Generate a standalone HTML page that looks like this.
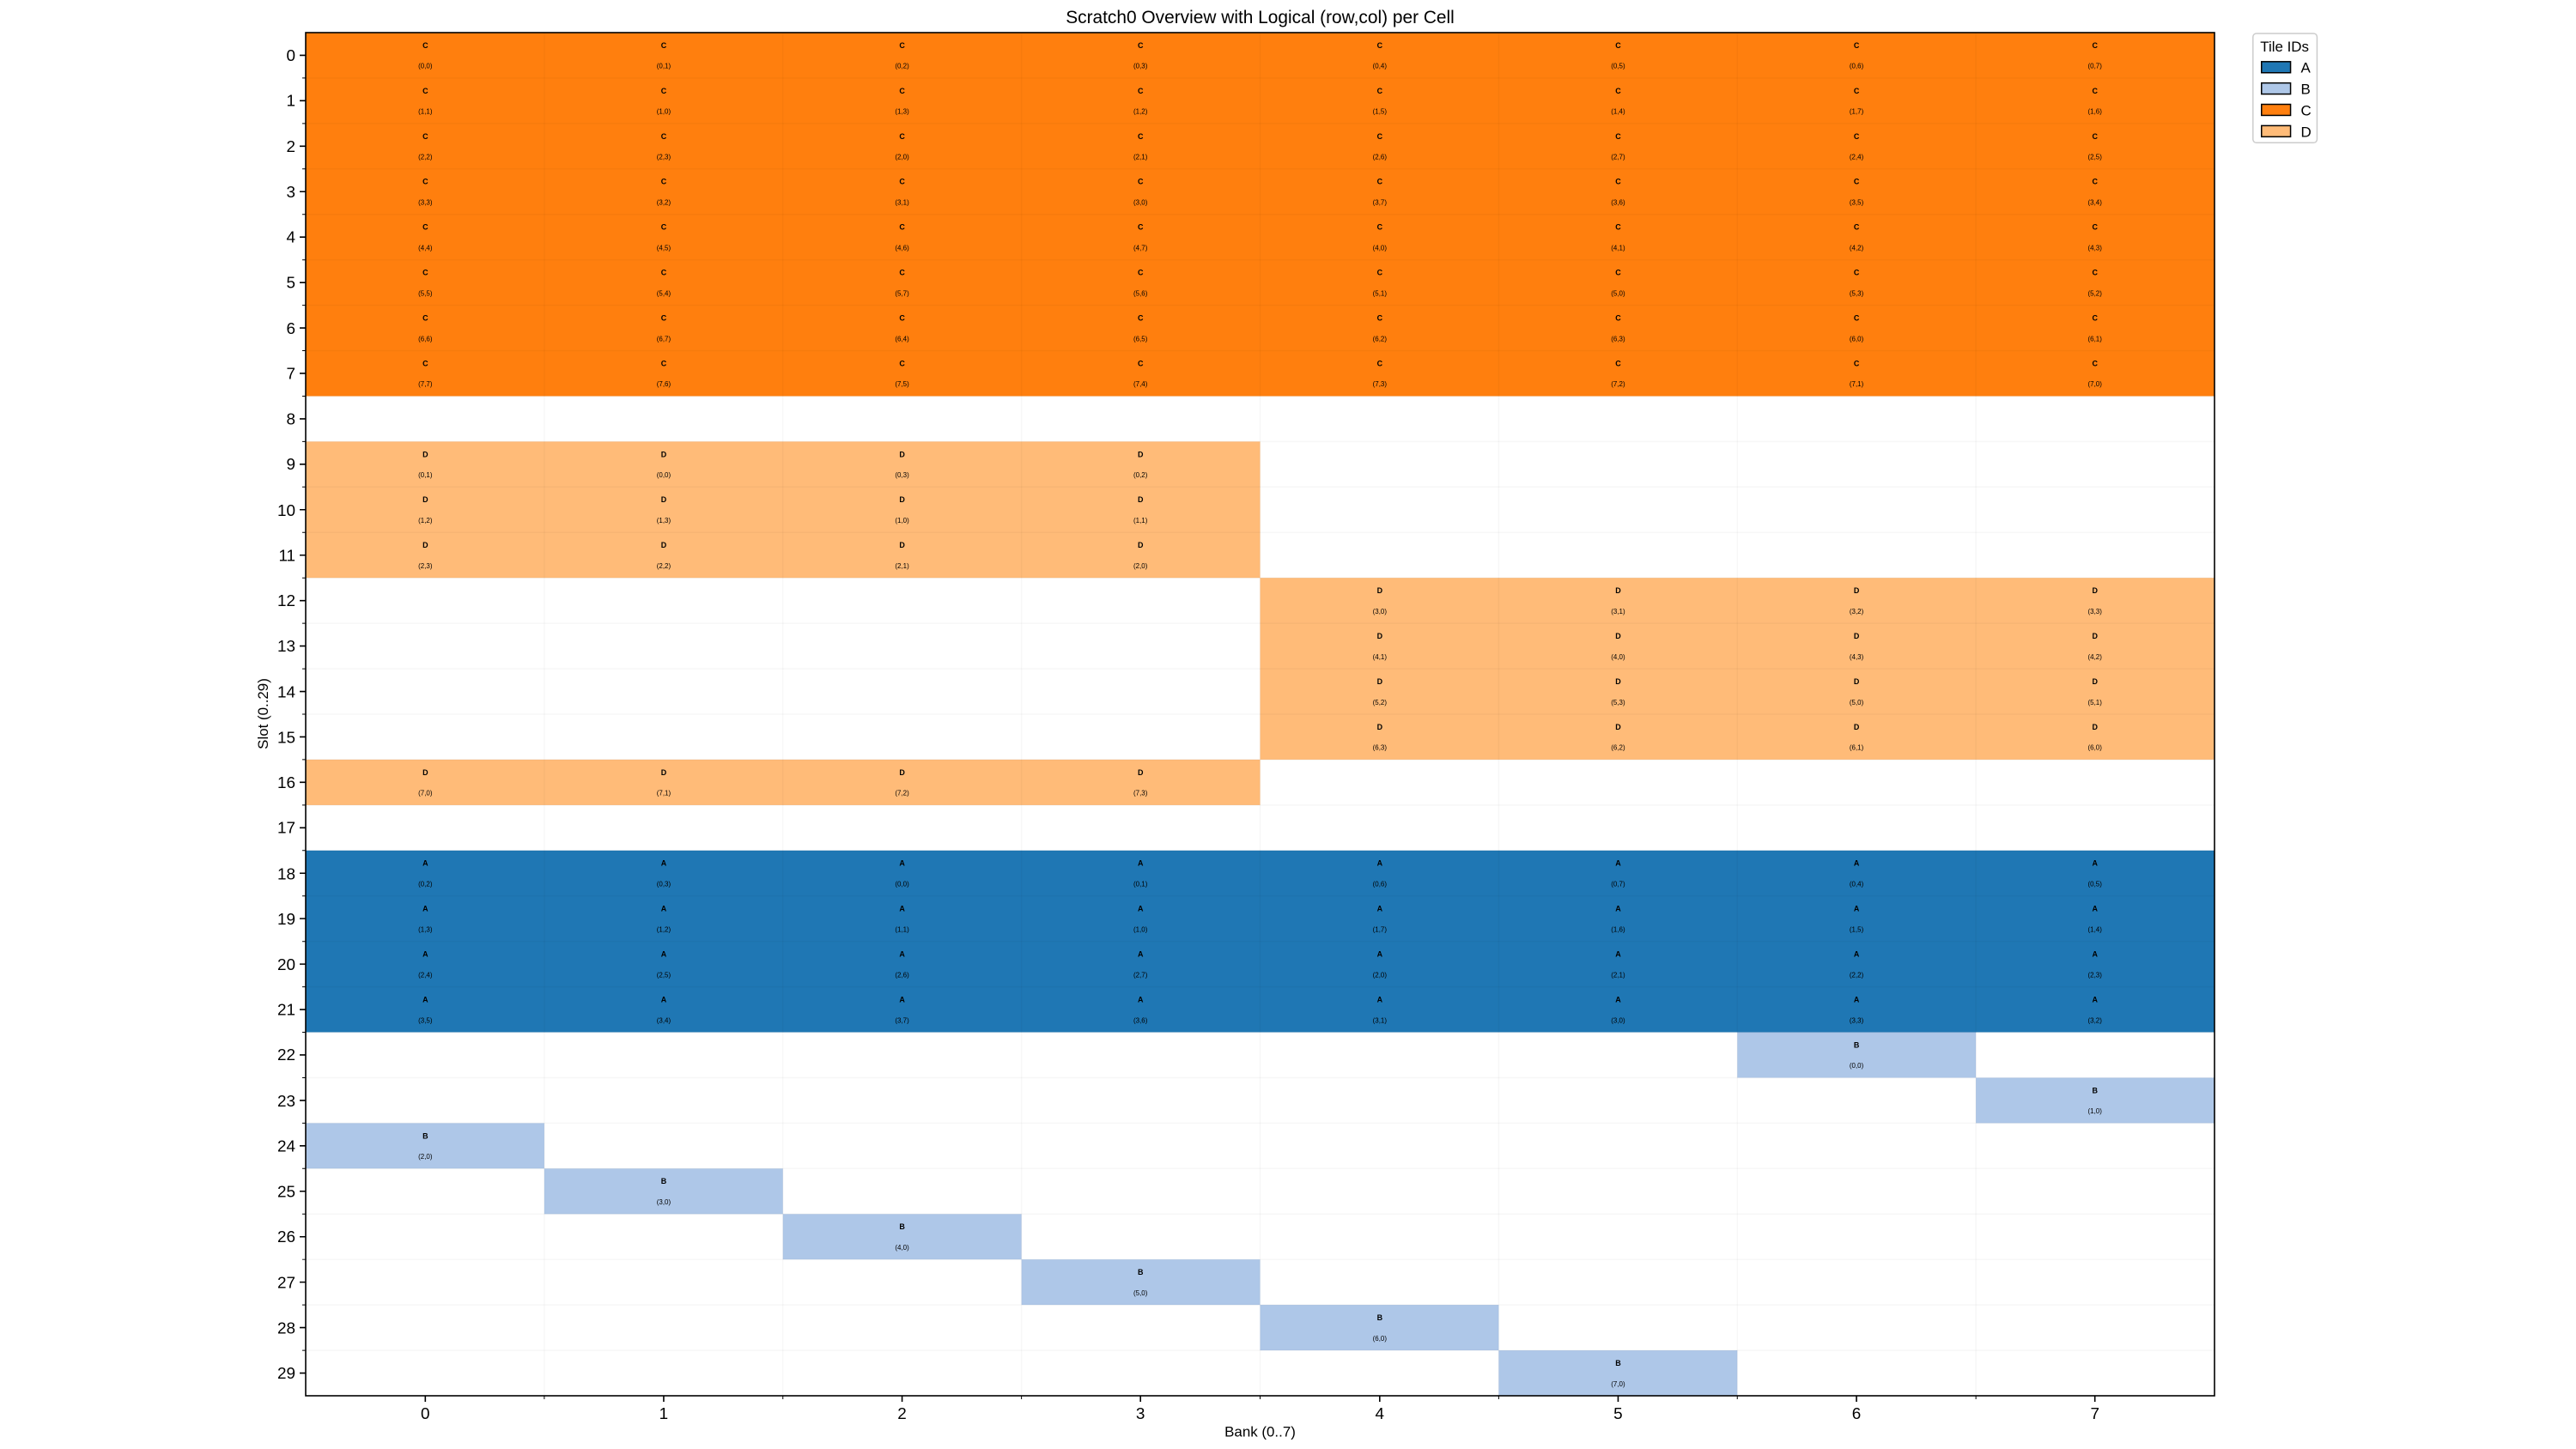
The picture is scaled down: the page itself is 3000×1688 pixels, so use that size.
<!DOCTYPE html>
<html><head><meta charset="utf-8"><style>
html,body{margin:0;padding:0;background:#fff}
svg{display:block}
text{font-family:"Liberation Sans","DejaVu Sans",sans-serif;fill:#000}
.l{font-size:9px;font-weight:bold;text-anchor:middle}
.c{font-size:8px;text-anchor:middle}
.t{font-size:19px;text-anchor:end}
.x{font-size:19px;text-anchor:middle}
</style></head><body>
<svg width="3000" height="1688" viewBox="0 0 3000 1688" xmlns="http://www.w3.org/2000/svg">
<rect width="3000" height="1688" fill="#fff"/>
<g transform="matrix(0.99508,0,0,0.99436,-0.24,0.21)">
<text x="1475" y="27" style="font-size:21px;text-anchor:middle">Scratch0 Overview with Logical (row,col) per Cell</text>
<!-- fills -->
<rect x="358" y="38" width="2234" height="425.9" fill="#ff7f0e"/>
<rect x="358" y="517.1" width="1117" height="159.7" fill="#ffbb78"/>
<rect x="1475" y="676.8" width="1117" height="212.9" fill="#ffbb78"/>
<rect x="358" y="889.7" width="1117" height="53.3" fill="#ffbb78"/>
<rect x="358" y="996.2" width="2234" height="212.9" fill="#1f77b4"/>
<rect x="2033.5" y="1209.1" width="279.25" height="53.3" fill="#aec7e8"/>
<rect x="2312.75" y="1262.4" width="279.25" height="53.2" fill="#aec7e8"/>
<rect x="358" y="1315.6" width="279.25" height="53.2" fill="#aec7e8"/>
<rect x="637.25" y="1368.8" width="279.25" height="53.3" fill="#aec7e8"/>
<rect x="916.5" y="1422.1" width="279.25" height="53.2" fill="#aec7e8"/>
<rect x="1195.75" y="1475.3" width="279.25" height="53.2" fill="#aec7e8"/>
<rect x="1475" y="1528.5" width="279.25" height="53.3" fill="#aec7e8"/>
<rect x="1754.25" y="1581.8" width="279.25" height="53.2" fill="#aec7e8"/>
<!-- faint grid -->
<g stroke="#000" stroke-opacity="0.03" stroke-width="1.5">
<line x1="358" x2="2592" y1="91.2" y2="91.2"/><line x1="358" x2="2592" y1="144.5" y2="144.5"/><line x1="358" x2="2592" y1="197.7" y2="197.7"/><line x1="358" x2="2592" y1="250.9" y2="250.9"/><line x1="358" x2="2592" y1="304.2" y2="304.2"/><line x1="358" x2="2592" y1="357.4" y2="357.4"/><line x1="358" x2="2592" y1="410.6" y2="410.6"/><line x1="358" x2="2592" y1="463.9" y2="463.9"/><line x1="358" x2="2592" y1="517.1" y2="517.1"/><line x1="358" x2="2592" y1="570.3" y2="570.3"/><line x1="358" x2="2592" y1="623.6" y2="623.6"/><line x1="358" x2="2592" y1="676.8" y2="676.8"/><line x1="358" x2="2592" y1="730" y2="730"/><line x1="358" x2="2592" y1="783.3" y2="783.3"/><line x1="358" x2="2592" y1="836.5" y2="836.5"/><line x1="358" x2="2592" y1="889.7" y2="889.7"/><line x1="358" x2="2592" y1="943" y2="943"/><line x1="358" x2="2592" y1="996.2" y2="996.2"/><line x1="358" x2="2592" y1="1049.4" y2="1049.4"/><line x1="358" x2="2592" y1="1102.7" y2="1102.7"/><line x1="358" x2="2592" y1="1155.9" y2="1155.9"/><line x1="358" x2="2592" y1="1209.1" y2="1209.1"/><line x1="358" x2="2592" y1="1262.4" y2="1262.4"/><line x1="358" x2="2592" y1="1315.6" y2="1315.6"/><line x1="358" x2="2592" y1="1368.8" y2="1368.8"/><line x1="358" x2="2592" y1="1422.1" y2="1422.1"/><line x1="358" x2="2592" y1="1475.3" y2="1475.3"/><line x1="358" x2="2592" y1="1528.5" y2="1528.5"/><line x1="358" x2="2592" y1="1581.8" y2="1581.8"/>
<line y1="38" y2="1635" x1="637.25" x2="637.25"/><line y1="38" y2="1635" x1="916.5" x2="916.5"/><line y1="38" y2="1635" x1="1195.75" x2="1195.75"/><line y1="38" y2="1635" x1="1475" x2="1475"/><line y1="38" y2="1635" x1="1754.25" x2="1754.25"/><line y1="38" y2="1635" x1="2033.5" x2="2033.5"/><line y1="38" y2="1635" x1="2312.75" x2="2312.75"/>
</g>
<!-- C rows -->
<g transform="translate(0,38)"><text class="l" x="498" y="18">C</text><text class="l" x="777" y="18">C</text><text class="l" x="1056" y="18">C</text><text class="l" x="1335" y="18">C</text><text class="l" x="1615" y="18">C</text><text class="l" x="1894" y="18">C</text><text class="l" x="2173" y="18">C</text><text class="l" x="2452" y="18">C</text>
<text class="c" x="498" y="42">(0,0)</text><text class="c" x="777" y="42">(0,1)</text><text class="c" x="1056" y="42">(0,2)</text><text class="c" x="1335" y="42">(0,3)</text><text class="c" x="1615" y="42">(0,4)</text><text class="c" x="1894" y="42">(0,5)</text><text class="c" x="2173" y="42">(0,6)</text><text class="c" x="2452" y="42">(0,7)</text></g>
<g transform="translate(0,91.2)"><text class="l" x="498" y="18">C</text><text class="l" x="777" y="18">C</text><text class="l" x="1056" y="18">C</text><text class="l" x="1335" y="18">C</text><text class="l" x="1615" y="18">C</text><text class="l" x="1894" y="18">C</text><text class="l" x="2173" y="18">C</text><text class="l" x="2452" y="18">C</text>
<text class="c" x="498" y="42">(1,1)</text><text class="c" x="777" y="42">(1,0)</text><text class="c" x="1056" y="42">(1,3)</text><text class="c" x="1335" y="42">(1,2)</text><text class="c" x="1615" y="42">(1,5)</text><text class="c" x="1894" y="42">(1,4)</text><text class="c" x="2173" y="42">(1,7)</text><text class="c" x="2452" y="42">(1,6)</text></g>
<g transform="translate(0,144.5)"><text class="l" x="498" y="18">C</text><text class="l" x="777" y="18">C</text><text class="l" x="1056" y="18">C</text><text class="l" x="1335" y="18">C</text><text class="l" x="1615" y="18">C</text><text class="l" x="1894" y="18">C</text><text class="l" x="2173" y="18">C</text><text class="l" x="2452" y="18">C</text>
<text class="c" x="498" y="42">(2,2)</text><text class="c" x="777" y="42">(2,3)</text><text class="c" x="1056" y="42">(2,0)</text><text class="c" x="1335" y="42">(2,1)</text><text class="c" x="1615" y="42">(2,6)</text><text class="c" x="1894" y="42">(2,7)</text><text class="c" x="2173" y="42">(2,4)</text><text class="c" x="2452" y="42">(2,5)</text></g>
<g transform="translate(0,197.7)"><text class="l" x="498" y="18">C</text><text class="l" x="777" y="18">C</text><text class="l" x="1056" y="18">C</text><text class="l" x="1335" y="18">C</text><text class="l" x="1615" y="18">C</text><text class="l" x="1894" y="18">C</text><text class="l" x="2173" y="18">C</text><text class="l" x="2452" y="18">C</text>
<text class="c" x="498" y="42">(3,3)</text><text class="c" x="777" y="42">(3,2)</text><text class="c" x="1056" y="42">(3,1)</text><text class="c" x="1335" y="42">(3,0)</text><text class="c" x="1615" y="42">(3,7)</text><text class="c" x="1894" y="42">(3,6)</text><text class="c" x="2173" y="42">(3,5)</text><text class="c" x="2452" y="42">(3,4)</text></g>
<g transform="translate(0,250.9)"><text class="l" x="498" y="18">C</text><text class="l" x="777" y="18">C</text><text class="l" x="1056" y="18">C</text><text class="l" x="1335" y="18">C</text><text class="l" x="1615" y="18">C</text><text class="l" x="1894" y="18">C</text><text class="l" x="2173" y="18">C</text><text class="l" x="2452" y="18">C</text>
<text class="c" x="498" y="42">(4,4)</text><text class="c" x="777" y="42">(4,5)</text><text class="c" x="1056" y="42">(4,6)</text><text class="c" x="1335" y="42">(4,7)</text><text class="c" x="1615" y="42">(4,0)</text><text class="c" x="1894" y="42">(4,1)</text><text class="c" x="2173" y="42">(4,2)</text><text class="c" x="2452" y="42">(4,3)</text></g>
<g transform="translate(0,304.2)"><text class="l" x="498" y="18">C</text><text class="l" x="777" y="18">C</text><text class="l" x="1056" y="18">C</text><text class="l" x="1335" y="18">C</text><text class="l" x="1615" y="18">C</text><text class="l" x="1894" y="18">C</text><text class="l" x="2173" y="18">C</text><text class="l" x="2452" y="18">C</text>
<text class="c" x="498" y="42">(5,5)</text><text class="c" x="777" y="42">(5,4)</text><text class="c" x="1056" y="42">(5,7)</text><text class="c" x="1335" y="42">(5,6)</text><text class="c" x="1615" y="42">(5,1)</text><text class="c" x="1894" y="42">(5,0)</text><text class="c" x="2173" y="42">(5,3)</text><text class="c" x="2452" y="42">(5,2)</text></g>
<g transform="translate(0,357.4)"><text class="l" x="498" y="18">C</text><text class="l" x="777" y="18">C</text><text class="l" x="1056" y="18">C</text><text class="l" x="1335" y="18">C</text><text class="l" x="1615" y="18">C</text><text class="l" x="1894" y="18">C</text><text class="l" x="2173" y="18">C</text><text class="l" x="2452" y="18">C</text>
<text class="c" x="498" y="42">(6,6)</text><text class="c" x="777" y="42">(6,7)</text><text class="c" x="1056" y="42">(6,4)</text><text class="c" x="1335" y="42">(6,5)</text><text class="c" x="1615" y="42">(6,2)</text><text class="c" x="1894" y="42">(6,3)</text><text class="c" x="2173" y="42">(6,0)</text><text class="c" x="2452" y="42">(6,1)</text></g>
<g transform="translate(0,410.6)"><text class="l" x="498" y="18">C</text><text class="l" x="777" y="18">C</text><text class="l" x="1056" y="18">C</text><text class="l" x="1335" y="18">C</text><text class="l" x="1615" y="18">C</text><text class="l" x="1894" y="18">C</text><text class="l" x="2173" y="18">C</text><text class="l" x="2452" y="18">C</text>
<text class="c" x="498" y="42">(7,7)</text><text class="c" x="777" y="42">(7,6)</text><text class="c" x="1056" y="42">(7,5)</text><text class="c" x="1335" y="42">(7,4)</text><text class="c" x="1615" y="42">(7,3)</text><text class="c" x="1894" y="42">(7,2)</text><text class="c" x="2173" y="42">(7,1)</text><text class="c" x="2452" y="42">(7,0)</text></g>
<!-- D rows -->
<g transform="translate(0,517.1)"><text class="l" x="498" y="18">D</text><text class="l" x="777" y="18">D</text><text class="l" x="1056" y="18">D</text><text class="l" x="1335" y="18">D</text>
<text class="c" x="498" y="42">(0,1)</text><text class="c" x="777" y="42">(0,0)</text><text class="c" x="1056" y="42">(0,3)</text><text class="c" x="1335" y="42">(0,2)</text></g>
<g transform="translate(0,570.3)"><text class="l" x="498" y="18">D</text><text class="l" x="777" y="18">D</text><text class="l" x="1056" y="18">D</text><text class="l" x="1335" y="18">D</text>
<text class="c" x="498" y="42">(1,2)</text><text class="c" x="777" y="42">(1,3)</text><text class="c" x="1056" y="42">(1,0)</text><text class="c" x="1335" y="42">(1,1)</text></g>
<g transform="translate(0,623.6)"><text class="l" x="498" y="18">D</text><text class="l" x="777" y="18">D</text><text class="l" x="1056" y="18">D</text><text class="l" x="1335" y="18">D</text>
<text class="c" x="498" y="42">(2,3)</text><text class="c" x="777" y="42">(2,2)</text><text class="c" x="1056" y="42">(2,1)</text><text class="c" x="1335" y="42">(2,0)</text></g>
<g transform="translate(0,676.8)"><text class="l" x="1615" y="18">D</text><text class="l" x="1894" y="18">D</text><text class="l" x="2173" y="18">D</text><text class="l" x="2452" y="18">D</text>
<text class="c" x="1615" y="42">(3,0)</text><text class="c" x="1894" y="42">(3,1)</text><text class="c" x="2173" y="42">(3,2)</text><text class="c" x="2452" y="42">(3,3)</text></g>
<g transform="translate(0,730)"><text class="l" x="1615" y="18">D</text><text class="l" x="1894" y="18">D</text><text class="l" x="2173" y="18">D</text><text class="l" x="2452" y="18">D</text>
<text class="c" x="1615" y="42">(4,1)</text><text class="c" x="1894" y="42">(4,0)</text><text class="c" x="2173" y="42">(4,3)</text><text class="c" x="2452" y="42">(4,2)</text></g>
<g transform="translate(0,783.3)"><text class="l" x="1615" y="18">D</text><text class="l" x="1894" y="18">D</text><text class="l" x="2173" y="18">D</text><text class="l" x="2452" y="18">D</text>
<text class="c" x="1615" y="42">(5,2)</text><text class="c" x="1894" y="42">(5,3)</text><text class="c" x="2173" y="42">(5,0)</text><text class="c" x="2452" y="42">(5,1)</text></g>
<g transform="translate(0,836.5)"><text class="l" x="1615" y="18">D</text><text class="l" x="1894" y="18">D</text><text class="l" x="2173" y="18">D</text><text class="l" x="2452" y="18">D</text>
<text class="c" x="1615" y="42">(6,3)</text><text class="c" x="1894" y="42">(6,2)</text><text class="c" x="2173" y="42">(6,1)</text><text class="c" x="2452" y="42">(6,0)</text></g>
<g transform="translate(0,889.7)"><text class="l" x="498" y="18">D</text><text class="l" x="777" y="18">D</text><text class="l" x="1056" y="18">D</text><text class="l" x="1335" y="18">D</text>
<text class="c" x="498" y="42">(7,0)</text><text class="c" x="777" y="42">(7,1)</text><text class="c" x="1056" y="42">(7,2)</text><text class="c" x="1335" y="42">(7,3)</text></g>
<!-- A rows -->
<g transform="translate(0,996.2)"><text class="l" x="498" y="18">A</text><text class="l" x="777" y="18">A</text><text class="l" x="1056" y="18">A</text><text class="l" x="1335" y="18">A</text><text class="l" x="1615" y="18">A</text><text class="l" x="1894" y="18">A</text><text class="l" x="2173" y="18">A</text><text class="l" x="2452" y="18">A</text>
<text class="c" x="498" y="42">(0,2)</text><text class="c" x="777" y="42">(0,3)</text><text class="c" x="1056" y="42">(0,0)</text><text class="c" x="1335" y="42">(0,1)</text><text class="c" x="1615" y="42">(0,6)</text><text class="c" x="1894" y="42">(0,7)</text><text class="c" x="2173" y="42">(0,4)</text><text class="c" x="2452" y="42">(0,5)</text></g>
<g transform="translate(0,1049.4)"><text class="l" x="498" y="18">A</text><text class="l" x="777" y="18">A</text><text class="l" x="1056" y="18">A</text><text class="l" x="1335" y="18">A</text><text class="l" x="1615" y="18">A</text><text class="l" x="1894" y="18">A</text><text class="l" x="2173" y="18">A</text><text class="l" x="2452" y="18">A</text>
<text class="c" x="498" y="42">(1,3)</text><text class="c" x="777" y="42">(1,2)</text><text class="c" x="1056" y="42">(1,1)</text><text class="c" x="1335" y="42">(1,0)</text><text class="c" x="1615" y="42">(1,7)</text><text class="c" x="1894" y="42">(1,6)</text><text class="c" x="2173" y="42">(1,5)</text><text class="c" x="2452" y="42">(1,4)</text></g>
<g transform="translate(0,1102.7)"><text class="l" x="498" y="18">A</text><text class="l" x="777" y="18">A</text><text class="l" x="1056" y="18">A</text><text class="l" x="1335" y="18">A</text><text class="l" x="1615" y="18">A</text><text class="l" x="1894" y="18">A</text><text class="l" x="2173" y="18">A</text><text class="l" x="2452" y="18">A</text>
<text class="c" x="498" y="42">(2,4)</text><text class="c" x="777" y="42">(2,5)</text><text class="c" x="1056" y="42">(2,6)</text><text class="c" x="1335" y="42">(2,7)</text><text class="c" x="1615" y="42">(2,0)</text><text class="c" x="1894" y="42">(2,1)</text><text class="c" x="2173" y="42">(2,2)</text><text class="c" x="2452" y="42">(2,3)</text></g>
<g transform="translate(0,1155.9)"><text class="l" x="498" y="18">A</text><text class="l" x="777" y="18">A</text><text class="l" x="1056" y="18">A</text><text class="l" x="1335" y="18">A</text><text class="l" x="1615" y="18">A</text><text class="l" x="1894" y="18">A</text><text class="l" x="2173" y="18">A</text><text class="l" x="2452" y="18">A</text>
<text class="c" x="498" y="42">(3,5)</text><text class="c" x="777" y="42">(3,4)</text><text class="c" x="1056" y="42">(3,7)</text><text class="c" x="1335" y="42">(3,6)</text><text class="c" x="1615" y="42">(3,1)</text><text class="c" x="1894" y="42">(3,0)</text><text class="c" x="2173" y="42">(3,3)</text><text class="c" x="2452" y="42">(3,2)</text></g>
<!-- B cells -->
<g transform="translate(0,1209.1)"><text class="l" x="2173" y="18">B</text><text class="c" x="2173" y="42">(0,0)</text></g>
<g transform="translate(0,1262.4)"><text class="l" x="2452" y="18">B</text><text class="c" x="2452" y="42">(1,0)</text></g>
<g transform="translate(0,1315.6)"><text class="l" x="498" y="18">B</text><text class="c" x="498" y="42">(2,0)</text></g>
<g transform="translate(0,1368.8)"><text class="l" x="777" y="18">B</text><text class="c" x="777" y="42">(3,0)</text></g>
<g transform="translate(0,1422.1)"><text class="l" x="1056" y="18">B</text><text class="c" x="1056" y="42">(4,0)</text></g>
<g transform="translate(0,1475.3)"><text class="l" x="1335" y="18">B</text><text class="c" x="1335" y="42">(5,0)</text></g>
<g transform="translate(0,1528.5)"><text class="l" x="1615" y="18">B</text><text class="c" x="1615" y="42">(6,0)</text></g>
<g transform="translate(0,1581.8)"><text class="l" x="1894" y="18">B</text><text class="c" x="1894" y="42">(7,0)</text></g>
<!-- axes frame -->
<rect x="358" y="38" width="2234" height="1597" fill="none" stroke="#000" stroke-width="1.6"/>
<!-- y ticks -->
<g stroke="#000" stroke-width="1.6">
<path d="M351 64.6h7M351 117.8h7M351 171.1h7M351 224.3h7M351 277.5h7M351 330.8h7M351 384h7M351 437.2h7M351 490.5h7M351 543.7h7M351 596.9h7M351 650.2h7M351 703.4h7M351 756.6h7M351 809.9h7M351 863.1h7M351 916.3h7M351 969.6h7M351 1022.8h7M351 1076h7M351 1129.3h7M351 1182.5h7M351 1235.7h7M351 1289h7M351 1342.2h7M351 1395.4h7M351 1448.7h7M351 1501.9h7M351 1555.1h7M351 1608.4h7"/>
<path d="M498 1635v7M777 1635v7M1056 1635v7M1335 1635v7M1615 1635v7M1894 1635v7M2173 1635v7M2452 1635v7"/>
</g>
<g stroke="#000" stroke-width="1">
<path d="M354 91.2h4M354 144.5h4M354 197.7h4M354 250.9h4M354 304.2h4M354 357.4h4M354 410.6h4M354 463.9h4M354 517.1h4M354 570.3h4M354 623.6h4M354 676.8h4M354 730h4M354 783.3h4M354 836.5h4M354 889.7h4M354 943h4M354 996.2h4M354 1049.4h4M354 1102.7h4M354 1155.9h4M354 1209.1h4M354 1262.4h4M354 1315.6h4M354 1368.8h4M354 1422.1h4M354 1475.3h4M354 1528.5h4M354 1581.8h4"/>
<path d="M637.25 1635v4M916.5 1635v4M1195.75 1635v4M1475 1635v4M1754.25 1635v4M2033.5 1635v4M2312.75 1635v4"/>
</g>
<text class="t" x="346" y="71">0</text><text class="t" x="346" y="124">1</text><text class="t" x="346" y="178">2</text><text class="t" x="346" y="231">3</text><text class="t" x="346" y="284">4</text><text class="t" x="346" y="337">5</text><text class="t" x="346" y="391">6</text><text class="t" x="346" y="444">7</text><text class="t" x="346" y="497">8</text><text class="t" x="346" y="550">9</text><text class="t" x="346" y="604">10</text><text class="t" x="346" y="657">11</text><text class="t" x="346" y="710">12</text><text class="t" x="346" y="763">13</text><text class="t" x="346" y="817">14</text><text class="t" x="346" y="870">15</text><text class="t" x="346" y="923">16</text><text class="t" x="346" y="976">17</text><text class="t" x="346" y="1030">18</text><text class="t" x="346" y="1083">19</text><text class="t" x="346" y="1136">20</text><text class="t" x="346" y="1189">21</text><text class="t" x="346" y="1242">22</text><text class="t" x="346" y="1296">23</text><text class="t" x="346" y="1349">24</text><text class="t" x="346" y="1402">25</text><text class="t" x="346" y="1455">26</text><text class="t" x="346" y="1509">27</text><text class="t" x="346" y="1562">28</text><text class="t" x="346" y="1615">29</text>
<text class="x" x="498" y="1662">0</text><text class="x" x="777" y="1662">1</text><text class="x" x="1056" y="1662">2</text><text class="x" x="1335" y="1662">3</text><text class="x" x="1615" y="1662">4</text><text class="x" x="1894" y="1662">5</text><text class="x" x="2173" y="1662">6</text><text class="x" x="2452" y="1662">7</text>
<text x="1475" y="1683" style="font-size:17px;text-anchor:middle">Bank (0..7)</text>
<text transform="translate(314,836) rotate(-90)" style="font-size:17px;text-anchor:middle">Slot (0..29)</text>
<!-- legend -->
<rect x="2637" y="39" width="75" height="128" rx="4" fill="#fff" stroke="#ccc" stroke-width="1.5"/>
<text x="2674" y="60" style="font-size:17px;text-anchor:middle">Tile IDs</text>
<rect x="2647" y="72" width="34" height="13" fill="#1f77b4" stroke="#000" stroke-width="1.5"/>
<rect x="2647" y="97" width="34" height="13" fill="#aec7e8" stroke="#000" stroke-width="1.5"/>
<rect x="2647" y="122" width="34" height="13" fill="#ff7f0e" stroke="#000" stroke-width="1.5"/>
<rect x="2647" y="147" width="34" height="13" fill="#ffbb78" stroke="#000" stroke-width="1.5"/>
<text x="2693" y="85" style="font-size:17px">A</text>
<text x="2693" y="110" style="font-size:17px">B</text>
<text x="2693" y="135" style="font-size:17px">C</text>
<text x="2693" y="160" style="font-size:17px">D</text>
</g>
</svg>
</body></html>
